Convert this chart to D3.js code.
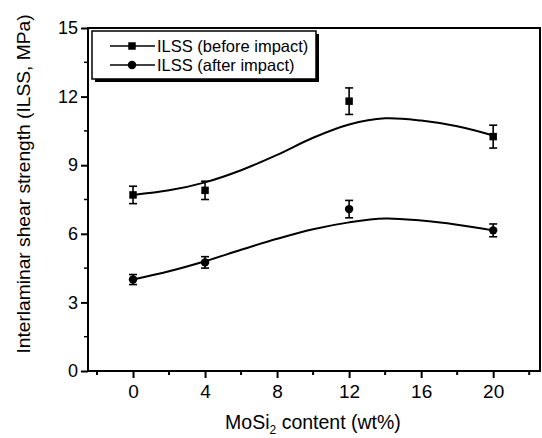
<!DOCTYPE html>
<html>
<head>
<meta charset="utf-8">
<script src="https://cdn.jsdelivr.net/npm/d3@7"></script>
<style>
  html, body { margin: 0; padding: 0; background: #fff; }
  svg { display: block; }
  text { font-family: "Liberation Sans", Arial, Helvetica, sans-serif; fill: #000; }
</style>
</head>
<body>
<svg id="chart" width="542" height="438"></svg>
<script>
// MoSi2 content (wt%) of the measured laminates
const contents = [0, 4, 12, 20];

// Measured ILSS (MPa) with error half-widths
const beforeValues = [7.7, 7.9, 11.8, 10.25];
const beforeErrors = [0.38, 0.4, 0.58, 0.5];
const afterValues = [4.0, 4.75, 7.08, 6.15];
const afterErrors = [0.22, 0.25, 0.38, 0.28];

// Fitted trend curves, sampled every 2 wt%
const fitX = [0, 2, 4, 6, 8, 10, 12, 14, 16, 18, 20];
const beforeFit = [7.7, 7.9, 8.25, 8.78, 9.45, 10.2, 10.78, 11.05, 10.95, 10.7, 10.3];
const afterFit = [4.0, 4.36, 4.8, 5.3, 5.78, 6.2, 6.5, 6.67, 6.58, 6.4, 6.15];

// Axis ticks
const xMajor = [0, 4, 8, 12, 16, 20];
const xMinor = [-2, 2, 6, 10, 14, 18, 22];
const yMajor = [0, 3, 6, 9, 12, 15];
const yMinor = [1.5, 4.5, 7.5, 10.5, 13.5];

const legendLabels = ["ILSS (before impact)", "ILSS (after impact)"];

const svg = d3.select("#chart");
const plotL = 88, plotR = 540, plotT = 28, plotB = 371;

const x = d3.scaleLinear().domain([-2.5, 22.6]).range([plotL, plotR]);
const y = d3.scaleLinear().domain([0, 15]).range([plotB, plotT]);

// Frame
svg.append("rect")
  .attr("x", plotL).attr("y", plotT)
  .attr("width", plotR - plotL).attr("height", plotB - plotT)
  .attr("fill", "none").attr("stroke", "#000").attr("stroke-width", 2);

// Bottom axis: major + minor ticks pointing out
const xAxis = svg.append("g").attr("transform", `translate(0,${plotB})`);
xAxis.call(d3.axisBottom(x).tickValues(xMajor).tickSize(7).tickPadding(4).tickFormat(d3.format("d")));
xAxis.select(".domain").remove();
xAxis.selectAll("line").attr("stroke-width", 2);
xAxis.selectAll("text").style("font-size", "19px").attr("dy", "0.85em");
xAxis.selectAll(".minor").data(xMinor).enter().append("line")
  .attr("class", "minor")
  .attr("x1", d => x(d)).attr("x2", d => x(d))
  .attr("y1", 0).attr("y2", 4)
  .attr("stroke", "#000").attr("stroke-width", 2);

// Left axis
const yAxis = svg.append("g").attr("transform", `translate(${plotL},0)`);
yAxis.call(d3.axisLeft(y).tickValues(yMajor).tickSize(7).tickPadding(3).tickFormat(d3.format("d")));
yAxis.select(".domain").remove();
yAxis.selectAll("line").attr("stroke-width", 2);
yAxis.selectAll("text").style("font-size", "18px");
yAxis.selectAll(".minor").data(yMinor).enter().append("line")
  .attr("class", "minor")
  .attr("y1", d => y(d)).attr("y2", d => y(d))
  .attr("x1", 0).attr("x2", -4)
  .attr("stroke", "#000").attr("stroke-width", 1.5);

// Axis titles
const xTitle = svg.append("text")
  .attr("x", 313).attr("y", 429)
  .attr("text-anchor", "middle")
  .style("font-size", "19.5px");
xTitle.append("tspan").text("MoSi");
xTitle.append("tspan").text("2").style("font-size", "12px").attr("dy", 5);
xTitle.append("tspan").text(" content (wt%)").attr("dy", -5);

svg.append("text")
  .attr("transform", "translate(30,184) rotate(-90)")
  .attr("text-anchor", "middle")
  .style("font-size", "19.2px")
  .text("Interlaminar shear strength (ILSS, MPa)");

// Fitted curves
const line = d3.line()
  .x(d => x(d[0])).y(d => y(d[1]))
  .curve(d3.curveCatmullRom.alpha(0.5));

[beforeFit, afterFit].forEach(vals => {
  svg.append("path")
    .datum(fitX.map((v, i) => [v, vals[i]]))
    .attr("d", line)
    .attr("fill", "none").attr("stroke", "#000").attr("stroke-width", 2);
});

// Error bars
function errorBars(vals, errs) {
  const g = svg.append("g").attr("stroke", "#000").attr("stroke-width", 1.6);
  contents.forEach((c, i) => {
    const cx = x(c), y1 = y(vals[i] + errs[i]), y2 = y(vals[i] - errs[i]);
    g.append("line").attr("x1", cx).attr("x2", cx).attr("y1", y1).attr("y2", y2);
    g.append("line").attr("x1", cx - 4).attr("x2", cx + 4).attr("y1", y1).attr("y2", y1);
    g.append("line").attr("x1", cx - 4).attr("x2", cx + 4).attr("y1", y2).attr("y2", y2);
  });
}
errorBars(beforeValues, beforeErrors);
errorBars(afterValues, afterErrors);

// Markers
const square = d3.symbol().type(d3.symbolSquare).size(56);
const circle = d3.symbol().type(d3.symbolCircle).size(56);

svg.append("g").selectAll("path").data(beforeValues).enter().append("path")
  .attr("d", square)
  .attr("transform", (d, i) => `translate(${x(contents[i])},${y(d)})`)
  .attr("fill", "#000");
svg.append("g").selectAll("path").data(afterValues).enter().append("path")
  .attr("d", circle)
  .attr("transform", (d, i) => `translate(${x(contents[i])},${y(d)})`)
  .attr("fill", "#000");

// Legend box with drop shadow
const lg = svg.append("g");
const lx = 92, ly = 31, lw = 224, lh = 48;
lg.append("rect").attr("x", lx + 3).attr("y", ly + 3).attr("width", lw).attr("height", lh).attr("fill", "#000");
lg.append("rect").attr("x", lx).attr("y", ly).attr("width", lw).attr("height", lh)
  .attr("fill", "#fff").attr("stroke", "#000").attr("stroke-width", 1.5);

const legendSymbols = [square, circle];
legendLabels.forEach((lab, i) => {
  const ry = 46 + i * 19;
  lg.append("line").attr("x1", 110).attr("x2", 155).attr("y1", ry).attr("y2", ry)
    .attr("stroke", "#000").attr("stroke-width", 1.6);
  lg.append("path").attr("d", legendSymbols[i]).attr("transform", `translate(132,${ry})`).attr("fill", "#000");
  lg.append("text").attr("x", 157).attr("y", ry + 6).style("font-size", "16.5px").text(lab);
});
</script>
</body>
</html>
